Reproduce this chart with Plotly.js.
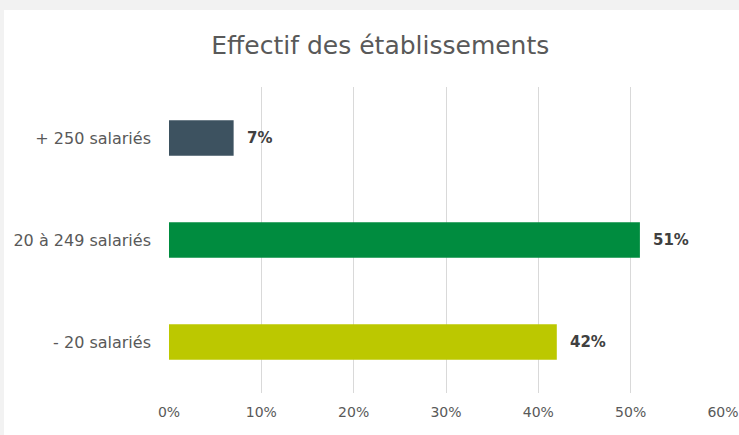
<!DOCTYPE html>
<html>
<head>
<meta charset="utf-8">
<script src="https://cdn.plot.ly/plotly-3.0.1.min.js"></script>
<style>
html,body{margin:0;padding:0;background:#f2f2f2;width:739px;height:435px;overflow:hidden;}
#chart{position:absolute;left:4px;top:10px;width:735px;height:425px;}
</style>
</head>
<body>
<div id="chart"></div>
<script>
const categories = ['+ 250 salariés', '20 à 249 salariés', '- 20 salariés'];
const values = [7, 51, 42];
const colors = ['#3d5260', '#008c3f', '#bcc800'];
const tickVals = [0, 10, 20, 30, 40, 50, 60];
const tickLabels = ['0%', '10%', '20%', '30%', '40%', '50%', '60%'];

const trace = {
  type: 'bar',
  orientation: 'h',
  x: values,
  y: categories,
  marker: {color: colors},
  width: 0.35,
  hoverinfo: 'none'
};

const annotations = values.map((v, i) => ({
  x: v, y: categories[i], xref: 'x', yref: 'y',
  text: '<b>' + v + '%</b>',
  showarrow: false, xanchor: 'left', xshift: 11,
  font: {family: 'DejaVu Sans, sans-serif', size: 15, color: '#404040'}
}));

const layout = {
  width: 735, height: 425,
  paper_bgcolor: '#ffffff', plot_bgcolor: '#ffffff',
  margin: {l: 164.5, r: 16, t: 77, b: 42},
  title: {text: 'Effectif des établissements', x: 0.512, xanchor: 'center', y: 0.918, yanchor: 'middle',
          font: {family: 'DejaVu Sans, sans-serif', size: 25, color: '#595959'}},
  showlegend: false,
  xaxis: {range: [0, 60], tickvals: tickVals, ticktext: tickLabels, showgrid: true,
          gridcolor: '#d9d9d9', gridwidth: 1, zeroline: false, showline: false, ticklabelstandoff: 9,
          tickfont: {family: 'DejaVu Sans, sans-serif', size: 14, color: '#595959'}, fixedrange: true},
  yaxis: {categoryorder: 'array', categoryarray: categories.slice().reverse(), showgrid: false,
          zeroline: false, showline: false, ticks: '', ticklabelstandoff: 17,
          tickfont: {family: 'DejaVu Sans, sans-serif', size: 16, color: '#595959'}, fixedrange: true},
  annotations: annotations
};

Plotly.newPlot('chart', [trace], layout, {displayModeBar: false, staticPlot: true});
</script>
</body>
</html>
